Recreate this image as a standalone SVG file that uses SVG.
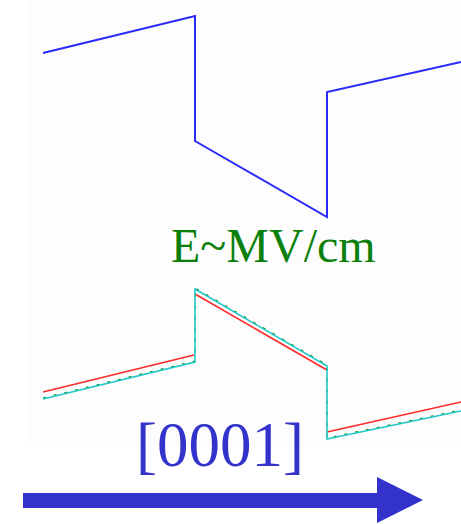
<svg xmlns="http://www.w3.org/2000/svg" width="461" height="524" viewBox="0 0 461 524">
<style>
.ln{fill:none;stroke-linejoin:miter;}
.blue{stroke:#2a2aff;stroke-width:2;}
.red{stroke:#ff2a2a;stroke-width:1.6;}
.cyan{stroke:#22c8c8;stroke-width:1.6;}
.green{stroke:#0a8a0a;stroke-width:1.2;stroke-dasharray:3 8;}
.t{font-family:"Liberation Serif","Times New Roman",serif;}
</style>
<rect x="0" y="0" width="461" height="524" fill="#ffffff"/>
<rect x="28" y="0" width="433" height="447" fill="#fdfdfd"/>
<g id="conduction-band">
<polyline class="ln blue" points="43,53 195,16 195,141 327,217 327,92 461,62"/>
</g>
<g id="valence-bands">
<polyline class="ln green" points="43,398 195,361 195,288 327,365 327,438 461,410"/>
<polyline class="ln red" points="43,392 194,355"/>
<polyline class="ln red" points="195,294 327,370"/>
<polyline class="ln red" points="327,432 461,402"/>
<polyline class="ln cyan" points="43,399 195,362 195,289 327,366 327,439 461,411"/>
</g>
<g id="label-field">
<text class="t" x="171" y="262" font-size="48" fill="#0a800a">E~MV/cm</text>
</g>
<g id="label-direction">
<text class="t" x="136" y="466" font-size="63" fill="#3333cc">[0001]</text>
</g>
<g id="arrow">
<rect x="23" y="493" width="356" height="15" fill="#3333cc"/>
<polygon points="377,477 423,500 377,523" fill="#3333cc"/>
</g>
</svg>
